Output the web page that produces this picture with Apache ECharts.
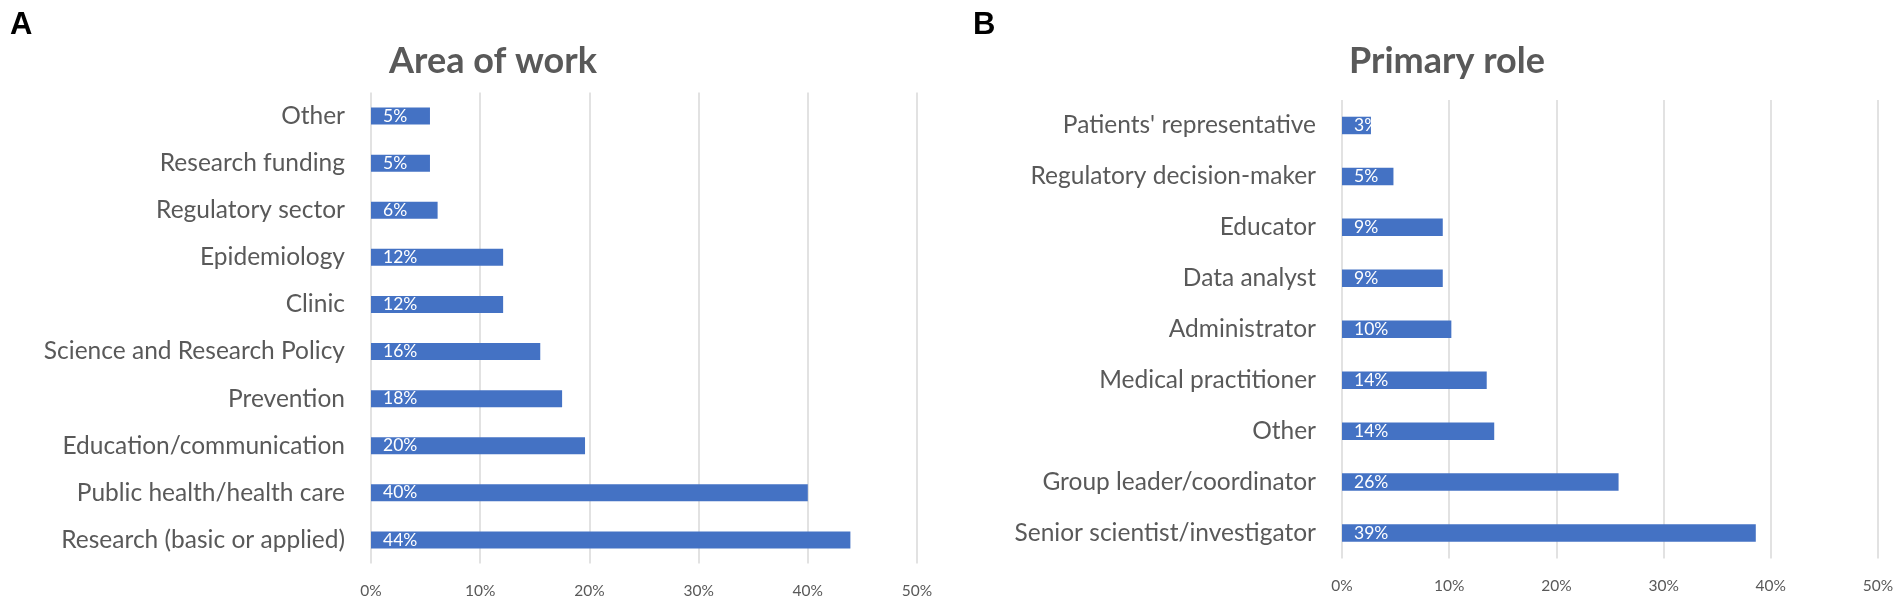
<!DOCTYPE html>
<html>
<head>
<meta charset="utf-8">
<title>Area of work / Primary role</title>
<script src="https://cdn.jsdelivr.net/npm/echarts@6/dist/echarts.min.js"></script>
<style>
  html, body { margin: 0; padding: 0; background: #fff; }
  #main { width: 1902px; height: 604px; }
</style>
</head>
<body>
<div id="main"></div>
<script>
// A: area of work (top to bottom)
var workCategories = ['Other', 'Research funding', 'Regulatory sector', 'Epidemiology', 'Clinic',
  'Science and Research Policy', 'Prevention', 'Education/communication',
  'Public health/health care', 'Research (basic or applied)'];
var workValues = [5.4, 5.4, 6.1, 12.1, 12.1, 15.5, 17.5, 19.6, 40.0, 43.9];

// B: primary role (top to bottom)
var roleCategories = ["Patients' representative", 'Regulatory decision-maker', 'Educator', 'Data analyst',
  'Administrator', 'Medical practitioner', 'Other', 'Group leader/coordinator',
  'Senior scientist/investigator'];
var roleValues = [2.7, 4.8, 9.4, 9.4, 10.2, 13.5, 14.2, 25.8, 38.6];

var axisTicks = [0, 10, 20, 30, 40, 50];

var FONT = 'Lato';
var GREY = '#595959';
var BLUE = '#4472C4';

var myChart = echarts.init(document.getElementById('main'));

function xAxisFor(gridIndex) {
	return {
		type: 'value',
		gridIndex: gridIndex,
		min: axisTicks[0],
		max: axisTicks[axisTicks.length - 1],
		interval: axisTicks[1] - axisTicks[0],
		axisLine: { show: false },
		axisTick: { show: false },
		splitLine: { lineStyle: { color: '#d9d9d9', width: 1.5 } },
		axisLabel: {
			margin: 19,
			color: GREY,
			fontFamily: FONT,
			fontSize: 15.5,
			formatter: '{value}%'
		}
	};
}

function yAxisFor(gridIndex, cats) {
	return {
		type: 'category',
		gridIndex: gridIndex,
		data: cats,
		inverse: true,
		axisLine: { show: false },
		axisTick: { show: false },
		axisLabel: {
			margin: 26,
			color: GREY,
			fontFamily: FONT,
			fontSize: 24.5
		}
	};
}

function seriesFor(idx, values, barWidth) {
	return {
		type: 'bar',
		xAxisIndex: idx,
		yAxisIndex: idx,
		data: values,
		barWidth: barWidth,
		itemStyle: { color: BLUE },
		label: {
			show: true,
			position: 'insideLeft',
			distance: 12,
			color: '#fff',
			fontFamily: FONT,
			fontSize: 17.5,
			formatter: function (p) { return Math.round(p.value) + '%'; }
		},
		silent: true
	};
}

var option = {
	animation: false,
	backgroundColor: '#fff',
	title: [
		{ text: 'A', left: 10, top: 10, padding: 0,
		  textStyle: { fontFamily: 'Liberation Sans', fontWeight: 'bold', fontSize: 31, color: '#000' } },
		{ text: 'B', left: 973, top: 10, padding: 0,
		  textStyle: { fontFamily: 'Liberation Sans', fontWeight: 'bold', fontSize: 31, color: '#000' } },
		{ text: 'Area of work', left: 493, top: 43, padding: 0, textAlign: 'center',
		  textStyle: { fontFamily: FONT, fontWeight: 'bold', fontSize: 36, color: GREY } },
		{ text: 'Primary role', left: 1447, top: 43, padding: 0, textAlign: 'center',
		  textStyle: { fontFamily: FONT, fontWeight: 'bold', fontSize: 36, color: GREY } }
	],
	grid: [
		{ left: 371, top: 92.5, width: 546, height: 471 },
		{ left: 1342, top: 100, width: 536, height: 458.5 }
	],
	xAxis: [xAxisFor(0), xAxisFor(1)],
	yAxis: [yAxisFor(0, workCategories), yAxisFor(1, roleCategories)],
	series: [seriesFor(0, workValues, 17), seriesFor(1, roleValues, 17.5)]
};

myChart.setOption(option);
</script>
</body>
</html>
